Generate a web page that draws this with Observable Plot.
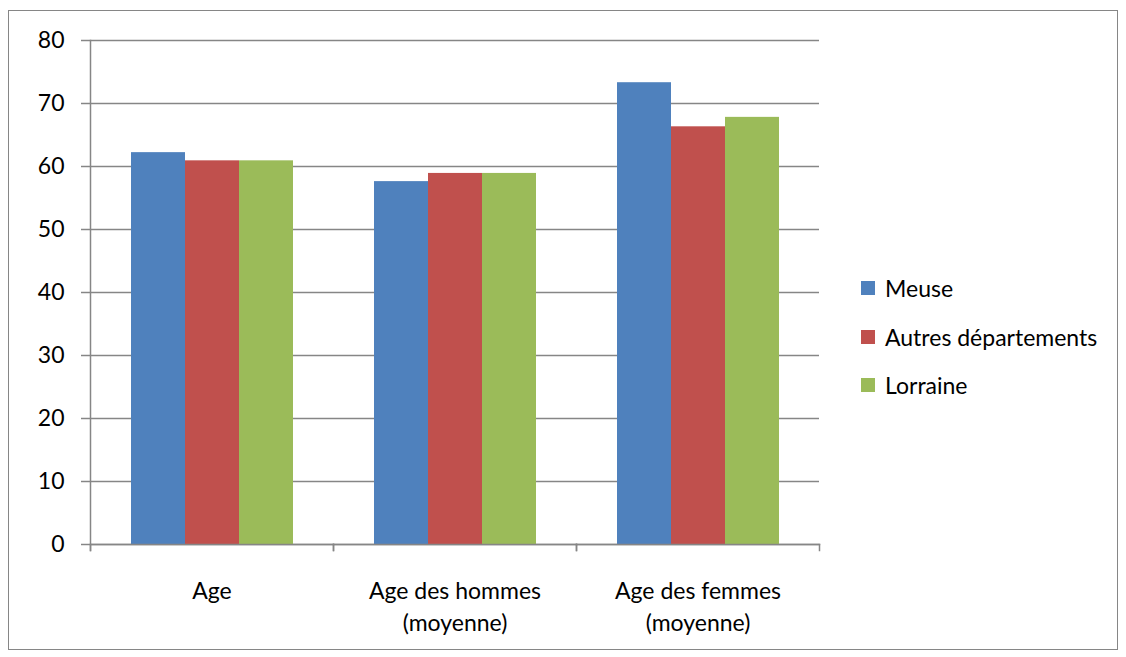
<!DOCTYPE html>
<html>
<head>
<meta charset="utf-8">
<script src="https://cdn.jsdelivr.net/npm/d3@7"></script>
<script src="https://cdn.jsdelivr.net/npm/@observablehq/plot@0.6"></script>
<style>
  html, body { margin: 0; padding: 0; background: #fff; }
  #wrap { position: relative; width: 1126px; height: 657px; font-family: Lato, "Open Sans", sans-serif; }
  #border { position: absolute; left: 8px; top: 10px; width: 1110px; height: 640px; border: 1.3px solid #868686; box-sizing: border-box; }
  #chart { position: absolute; left: 0; top: 0; }
  #legend { position: absolute; left: 861px; top: 264px; }
  .item { display: flex; align-items: center; height: 48.5px; font-size: 23px; color: #000; }
  .sw { width: 14px; height: 14px; margin-right: 10px; }
</style>
</head>
<body>
<div id="wrap">
  <div id="border"></div>
  <div id="chart"></div>
  <div id="legend"></div>
</div>
<script>
const categories = ["Age", "Age des hommes\n(moyenne)", "Age des femmes\n(moyenne)"];
const series = ["Meuse", "Autres départements", "Lorraine"];
const meuse = [62.2, 57.6, 73.3];
const autres = [60.9, 58.9, 66.3];
const lorraine = [60.9, 58.9, 67.8];
const colors = ["#4F81BD", "#C0504D", "#9BBB59"];
const yTicks = [0, 10, 20, 30, 40, 50, 60, 70, 80];

const valuesBySeries = [meuse, autres, lorraine];
const data = [];
categories.forEach((c, i) => series.forEach((s, j) => data.push({category: c, series: s, value: valuesBySeries[j][i]})));

const W = 1126, H = 657, mt = 40, mb = 113, ml = 89, mr = 307;
const innerH = H - mt - mb;
const gridColor = "#868686";

const chart = Plot.plot({
  width: W, height: H,
  marginTop: mt, marginBottom: mb, marginLeft: ml, marginRight: mr,
  style: {fontFamily: "Lato, 'Open Sans', sans-serif", fontSize: "23px", color: "#000", background: "transparent"},
  fx: {domain: categories, padding: 0, label: null},
  x: {domain: series, paddingInner: 0, paddingOuter: 0.72, axis: null},
  y: {domain: [0, 80], ticks: yTicks, label: null},
  color: {domain: series, range: colors},
  marks: [
    Plot.gridY(yTicks, {stroke: gridColor, strokeOpacity: 1, strokeWidth: 1.3}),
    Plot.barY(data, {fx: "category", x: "series", y: "value", fill: "series"}),
    Plot.frame({anchor: "bottom", stroke: gridColor, strokeWidth: 1.5}),
    Plot.frame({anchor: "left", stroke: gridColor, strokeWidth: 1.5, insetTop: innerH, insetBottom: -6}),
    Plot.frame({anchor: "right", stroke: gridColor, strokeWidth: 1.5, insetTop: innerH, insetBottom: -6}),
    Plot.frame({anchor: "left", stroke: gridColor, strokeWidth: 1.5, facet: "super", insetBottom: -6}),
    Plot.axisY(yTicks, {tickSize: 9, tickPadding: 17, stroke: gridColor, strokeWidth: 1.5, fill: "#000", fontSize: 23, label: null}),
    Plot.axisFx({anchor: "bottom", tickSize: 0, tickPadding: 31, lineHeight: 1.42, fontSize: 23, fill: "#000", label: null})
  ]
});
document.getElementById("chart").appendChild(chart);

const legend = document.getElementById("legend");
series.forEach((s, i) => {
  const it = document.createElement("div");
  it.className = "item";
  it.innerHTML = `<div class="sw" style="background:${colors[i]}"></div><span>${s}</span>`;
  legend.appendChild(it);
});
</script>
</body>
</html>
